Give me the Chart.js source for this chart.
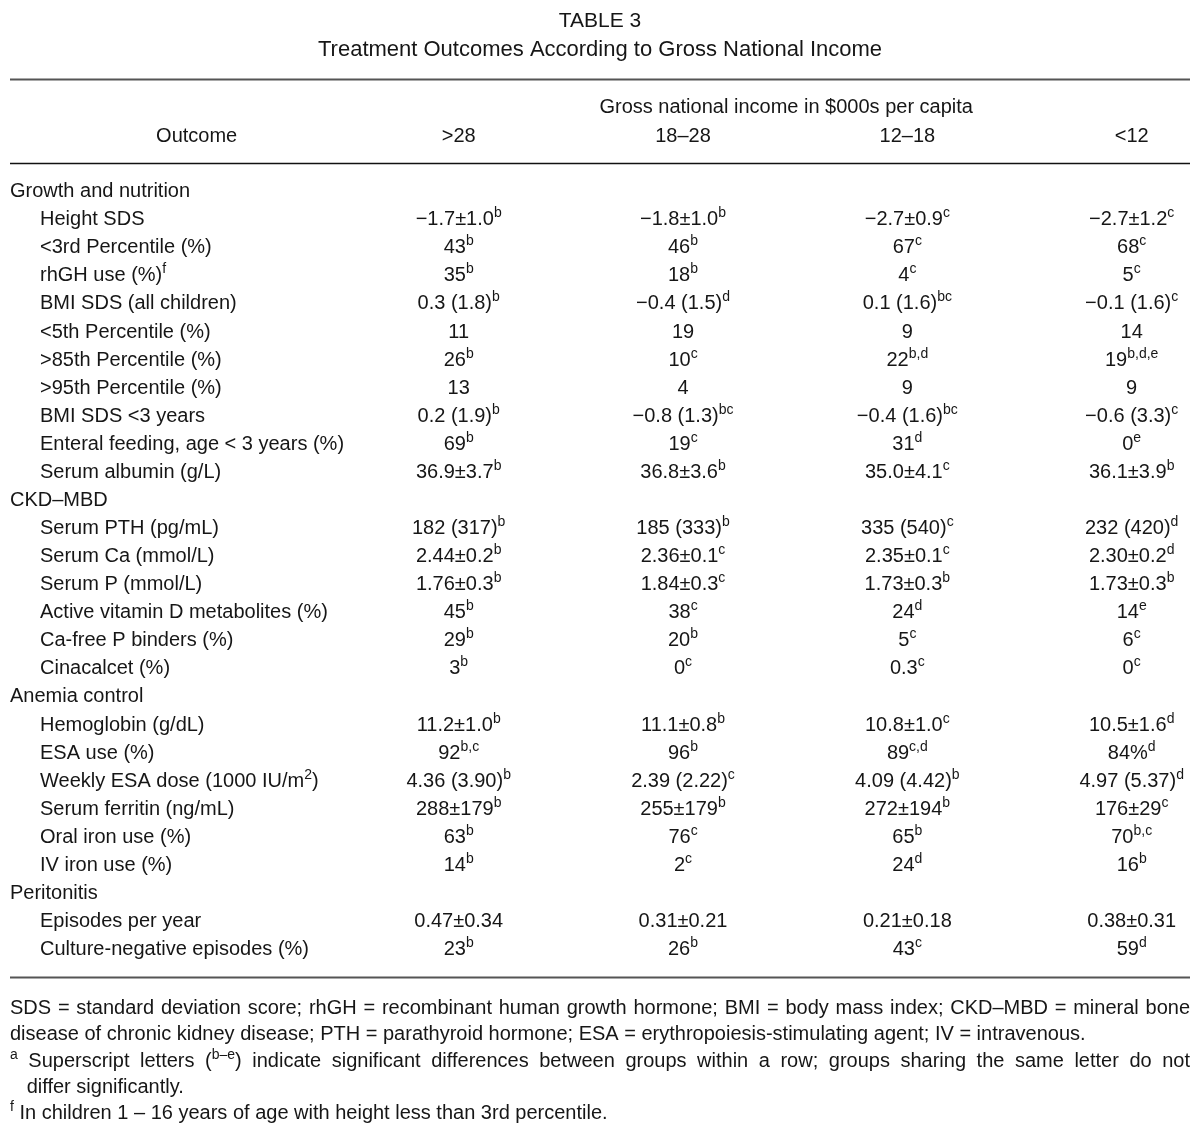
<!DOCTYPE html>
<html>
<head>
<meta charset="utf-8">
<script src="https://cdn.jsdelivr.net/npm/chart.js@4.4.1/dist/chart.umd.min.js"></script>
<style>
  html, body { margin: 0; padding: 0; background: #fff; }
  #tableChart { display: block; }
</style>
</head>
<body>
<canvas id="tableChart" width="1200" height="1139"></canvas>
<script>
// {x} marks a superscript
const groups = ['Growth and nutrition', 'CKD–MBD', 'Anemia control', 'Peritonitis']

const outcomes = [
  'Growth and nutrition',
  'Height SDS', '<3rd Percentile (%)', 'rhGH use (%){f}', 'BMI SDS (all children)', '<5th Percentile (%)',
  '>85th Percentile (%)', '>95th Percentile (%)', 'BMI SDS <3 years', 'Enteral feeding, age < 3 years (%)',
  'Serum albumin (g/L)',
  'CKD–MBD',
  'Serum PTH (pg/mL)', 'Serum Ca (mmol/L)', 'Serum P (mmol/L)', 'Active vitamin D metabolites (%)',
  'Ca-free P binders (%)', 'Cinacalcet (%)',
  'Anemia control',
  'Hemoglobin (g/dL)', 'ESA use (%)', 'Weekly ESA dose (1000 IU/m{2})', 'Serum ferritin (ng/mL)',
  'Oral iron use (%)', 'IV iron use (%)',
  'Peritonitis',
  'Episodes per year', 'Culture-negative episodes (%)'
]

const incomeGroups = ['>28', '18–28', '12–18', '<12']

const over28 = [
  '', '−1.7±1.0{b}', '43{b}', '35{b}', '0.3 (1.8){b}', '11', '26{b}', '13', '0.2 (1.9){b}', '69{b}', '36.9±3.7{b}',
  '', '182 (317){b}', '2.44±0.2{b}', '1.76±0.3{b}', '45{b}', '29{b}', '3{b}',
  '', '11.2±1.0{b}', '92{b,c}', '4.36 (3.90){b}', '288±179{b}', '63{b}', '14{b}',
  '', '0.47±0.34', '23{b}'
]
const from18to28 = [
  '', '−1.8±1.0{b}', '46{b}', '18{b}', '−0.4 (1.5){d}', '19', '10{c}', '4', '−0.8 (1.3){bc}', '19{c}', '36.8±3.6{b}',
  '', '185 (333){b}', '2.36±0.1{c}', '1.84±0.3{c}', '38{c}', '20{b}', '0{c}',
  '', '11.1±0.8{b}', '96{b}', '2.39 (2.22){c}', '255±179{b}', '76{c}', '2{c}',
  '', '0.31±0.21', '26{b}'
]
const from12to18 = [
  '', '−2.7±0.9{c}', '67{c}', '4{c}', '0.1 (1.6){bc}', '9', '22{b,d}', '9', '−0.4 (1.6){bc}', '31{d}', '35.0±4.1{c}',
  '', '335 (540){c}', '2.35±0.1{c}', '1.73±0.3{b}', '24{d}', '5{c}', '0.3{c}',
  '', '10.8±1.0{c}', '89{c,d}', '4.09 (4.42){b}', '272±194{b}', '65{b}', '24{d}',
  '', '0.21±0.18', '43{c}'
]
const under12 = [
  '', '−2.7±1.2{c}', '68{c}', '5{c}', '−0.1 (1.6){c}', '14', '19{b,d,e}', '9', '−0.6 (3.3){c}', '0{e}', '36.1±3.9{b}',
  '', '232 (420){d}', '2.30±0.2{d}', '1.73±0.3{b}', '14{e}', '6{c}', '0{c}',
  '', '10.5±1.6{d}', '84%{d}', '4.97 (5.37){d}', '176±29{c}', '70{b,c}', '16{b}',
  '', '0.38±0.31', '59{d}'
]

// [text, justified]
const footnotes = [
  ['SDS = standard deviation score; rhGH = recombinant human growth hormone; BMI = body mass index; CKD–MBD = mineral bone', true],
  ['disease of chronic kidney disease; PTH = parathyroid hormone; ESA = erythropoiesis-stimulating agent; IV = intravenous.', false],
  ['{a} Superscript letters ({b–e}) indicate significant differences between groups within a row; groups sharing the same letter do not', true],
  ['   differ significantly.', false],
  ['{f} In children 1 – 16 years of age with height less than 3rd percentile.', false]
]

const FONT = '"Liberation Sans", Arial, sans-serif'
const INK = '#161616'

function splitRuns(text) {
  const runs = []
  const re = /\{([^}]*)\}/g
  let last = 0, m
  while ((m = re.exec(text))) {
    if (m.index > last) runs.push({ t: text.slice(last, m.index), sup: false })
    runs.push({ t: m[1], sup: true })
    last = re.lastIndex
  }
  if (last < text.length) runs.push({ t: text.slice(last), sup: false })
  return runs
}

// y is the middle of the capitals; fitWidth spreads the spaces to fill a line
function drawRich(ctx, text, x, y, align, size, fitWidth) {
  const runs = splitRuns(text)
  const supSize = Math.round(size * 0.68)
  let width = 0, spaces = 0
  runs.forEach((r, k) => {
    ctx.font = (r.sup ? supSize : size) + 'px ' + FONT
    r.w = ctx.measureText(r.t).width
    width += r.w
    if (!r.sup) {
      const t = k === 0 ? r.t.replace(/^ +/, '') : r.t
      spaces += t.split(' ').length - 1
    }
  })
  const extra = fitWidth && spaces ? (fitWidth - width) / spaces : 0
  let cx = align === 'center' ? x - width / 2 : x
  const base = y + size * 0.36
  ctx.textAlign = 'left'
  ctx.textBaseline = 'alphabetic'
  runs.forEach(r => {
    ctx.font = (r.sup ? supSize : size) + 'px ' + FONT
    const yy = r.sup ? base - size * 0.4 : base
    if (!extra || r.sup) {
      ctx.fillText(r.t, cx, yy)
      cx += r.w
      return
    }
    const parts = r.t.split(' ')
    const spaceW = ctx.measureText(' ').width
    parts.forEach((p, k) => {
      if (k > 0) cx += spaceW + (cx > x ? extra : 0)
      ctx.fillText(p, cx, yy)
      cx += ctx.measureText(p).width
    })
  })
}

function rule(ctx, area, yPix, width, color) {
  ctx.beginPath()
  ctx.lineWidth = width
  ctx.strokeStyle = color
  ctx.moveTo(area.left, yPix)
  ctx.lineTo(area.right, yPix)
  ctx.stroke()
}

const tableText = {
  id: 'tableText',
  afterDatasetsDraw(chart) {
    const { ctx, chartArea, scales: { x, y } } = chart
    const mid = (chartArea.left + chartArea.right) / 2
    ctx.save()
    ctx.fillStyle = INK

    drawRich(ctx, 'TABLE 3', mid, y.getPixelForValue(-6.06), 'center', 21)
    drawRich(ctx, 'Treatment Outcomes According to Gross National Income', mid, y.getPixelForValue(-5.06), 'center', 22)

    rule(ctx, chartArea, Math.round(y.getPixelForValue(-3.955)) + 0.5, 2, '#555')
    rule(ctx, chartArea, Math.round(y.getPixelForValue(-0.962)) + 0.5, 1.6, '#111')
    rule(ctx, chartArea, Math.round(y.getPixelForValue(28.04)) + 0.5, 2, '#555')

    drawRich(ctx, 'Gross national income in $000s per capita', x.getPixelForValue(2.46), y.getPixelForValue(-3), 'center', 20)
    drawRich(ctx, 'Outcome', x.getPixelForValue(-0.168), y.getPixelForValue(-1.96), 'center', 20)
    incomeGroups.forEach((g, i) => {
      drawRich(ctx, g, x.getPixelForValue(i + 1), y.getPixelForValue(-1.96), 'center', 20)
    })

    outcomes.forEach((label, i) => {
      const indent = groups.includes(label) ? 0 : 30
      drawRich(ctx, label, x.getPixelForValue(-1) + indent, y.getPixelForValue(i), 'left', 20)
    })

    chart.data.datasets.forEach((ds, di) => {
      chart.getDatasetMeta(di).data.forEach((pt, i) => {
        if (ds.cells[i]) drawRich(ctx, ds.cells[i], pt.x, pt.y, 'center', 20)
      })
    })

    const firstNote = y.getPixelForValue(29.1)
    const lineW = chartArea.right - chartArea.left
    footnotes.forEach(([line, justify], i) => {
      drawRich(ctx, line, chartArea.left, firstNote + i * 26.3, 'left', 20, justify ? lineW : 0)
    })
    ctx.restore()
  }
}

const columns = [over28, from18to28, from12to18, under12]

new Chart(document.getElementById('tableChart'), {
  type: 'scatter',
  data: {
    datasets: columns.map((cells, ci) => ({
      label: incomeGroups[ci],
      cells: cells,
      data: outcomes.map((_, i) => ({ x: ci + 1, y: i })),
      pointRadius: 0,
      pointHoverRadius: 0
    }))
  },
  options: {
    responsive: false,
    animation: false,
    devicePixelRatio: 1,
    layout: { padding: { left: 10, right: 10, top: 0, bottom: 0 } },
    scales: {
      x: { type: 'linear', min: -1, max: 4.26, display: false },
      y: { type: 'linear', reverse: true, min: -6.77, max: 33.81, display: false }
    },
    plugins: { legend: { display: false }, tooltip: { enabled: false } },
    events: []
  },
  plugins: [tableText]
})
</script>
</body>
</html>
